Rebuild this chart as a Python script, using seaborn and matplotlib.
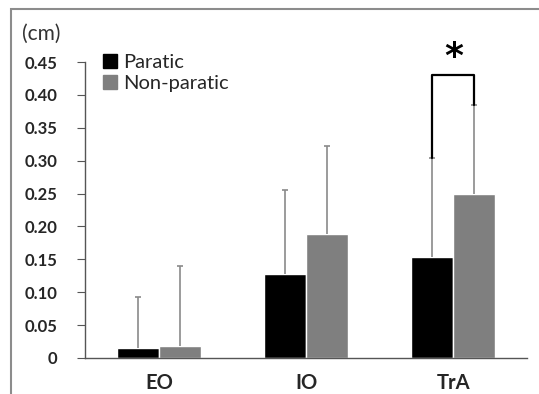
import numpy as np
import pandas as pd
import matplotlib
matplotlib.use("Agg")
import matplotlib.pyplot as plt
import seaborn as sns
from matplotlib.patches import Rectangle
from matplotlib.lines import Line2D

# --- data ---
muscles = ["EO", "IO", "TrA"]
groups = ["Paratic", "Non-paratic"]
paratic_mean = [0.015, 0.128, 0.153]
paratic_sd = [0.078, 0.127, 0.151]
nonparatic_mean = [0.018, 0.188, 0.250]
nonparatic_sd = [0.122, 0.135, 0.135]
y_ticks = [0, 0.05, 0.10, 0.15, 0.20, 0.25, 0.30, 0.35, 0.40, 0.45]
y_ticklabels = ["0", "0.05", "0.10", "0.15", "0.20", "0.25", "0.30", "0.35", "0.40", "0.45"]
sig_pair = ("TrA", 0.430)

BAR_COLORS = ["#000000", "#7f7f7f"]
ERR_COLOR = "#8a8a8a"
AXIS_COLOR = "#555555"

sns.set_style("white")
plt.rcParams["font.family"] = ["Lato", "DejaVu Sans"]

df = pd.DataFrame({
    "muscle": muscles * 2,
    "group": [groups[0]] * 3 + [groups[1]] * 3,
    "mean": paratic_mean + nonparatic_mean,
    "sd": paratic_sd + nonparatic_sd,
})

fig = plt.figure(figsize=(5.39, 3.94), dpi=100)
ax = fig.add_axes([0.158, 0.0914, 0.820, 0.7512])

sns.barplot(data=df, x="muscle", y="mean", hue="group", order=muscles,
            hue_order=groups, palette=BAR_COLORS, width=0.57, errorbar=None,
            saturation=1, legend=False, ax=ax)

# upper error bars at the centre of each bar (no cap at the bar top)
for gi, g in enumerate(groups):
    sub = df[df["group"] == g].set_index("muscle").loc[muscles]
    bars = ax.containers[gi]
    xs = [b.get_x() + b.get_width() / 2 for b in bars]
    eb = ax.errorbar(xs, sub["mean"], yerr=[np.zeros(len(xs)), sub["sd"]],
                     fmt="none", ecolor=ERR_COLOR, elinewidth=1.2, capsize=2.5,
                     capthick=1.2, zorder=3)
    eb[1][0].set_visible(False)

# significance bracket
mi = muscles.index(sig_pair[0])
b_left = ax.containers[0][mi]
b_right = ax.containers[1][mi]
xl = b_left.get_x() + b_left.get_width() / 2
xr = b_right.get_x() + b_right.get_width() / 2
top_l = paratic_mean[mi] + paratic_sd[mi]
top_r = nonparatic_mean[mi] + nonparatic_sd[mi]
ax.plot([xl, xl, xr, xr], [top_l, sig_pair[1], sig_pair[1], top_r],
        color="black", lw=1.6, zorder=4, clip_on=False)
ax.text((xl + xr) / 2, sig_pair[1] + 0.002, "*", ha="center", va="bottom",
        fontsize=26, fontweight="bold", color="black", family="DejaVu Sans")

ax.set_ylim(0, 0.45)
ax.set_xlim(-0.5, 2.5)
ax.set_yticks(y_ticks)
ax.set_yticklabels(y_ticklabels, fontsize=12, fontweight="bold")
ax.set_xticks(range(len(muscles)))
ax.set_xticklabels(muscles, fontsize=14.5, fontweight="bold")
ax.set_xticks([-0.5, 0.5, 1.5, 2.5], minor=True)
ax.tick_params(axis="x", which="major", length=0, pad=11)
ax.tick_params(axis="x", which="minor", length=6, color=AXIS_COLOR, direction="out")
ax.tick_params(axis="y", length=6, color=AXIS_COLOR, direction="out", left=True, pad=14)
ax.set_xlabel("")
ax.set_ylabel("")
sns.despine(ax=ax)
for s in ["left", "bottom"]:
    ax.spines[s].set_color(AXIS_COLOR)
    ax.spines[s].set_linewidth(1.0)

fig.text(22 / 539, 1 - 34 / 394, "(cm)", fontsize=15, va="center", ha="left",
         color="#333333")

handles = [Line2D([], [], marker="s", ls="", markersize=10, color=c) for c in BAR_COLORS]
ax.legend(handles, groups, loc="upper left", bbox_to_anchor=(0.015, 1.055),
          frameon=False, fontsize=14.5, handletextpad=0.15, labelspacing=0.2,
          handlelength=1.0, borderaxespad=0)

# outer frame around the chart area
fig.patches.append(Rectangle((11 / 539, -0.05), 1.2, 1 - 9 / 394 + 0.05,
                             transform=fig.transFigure, fill=False,
                             edgecolor="#8c8c8c", lw=1.5))

fig.savefig("out.png", dpi=100)
